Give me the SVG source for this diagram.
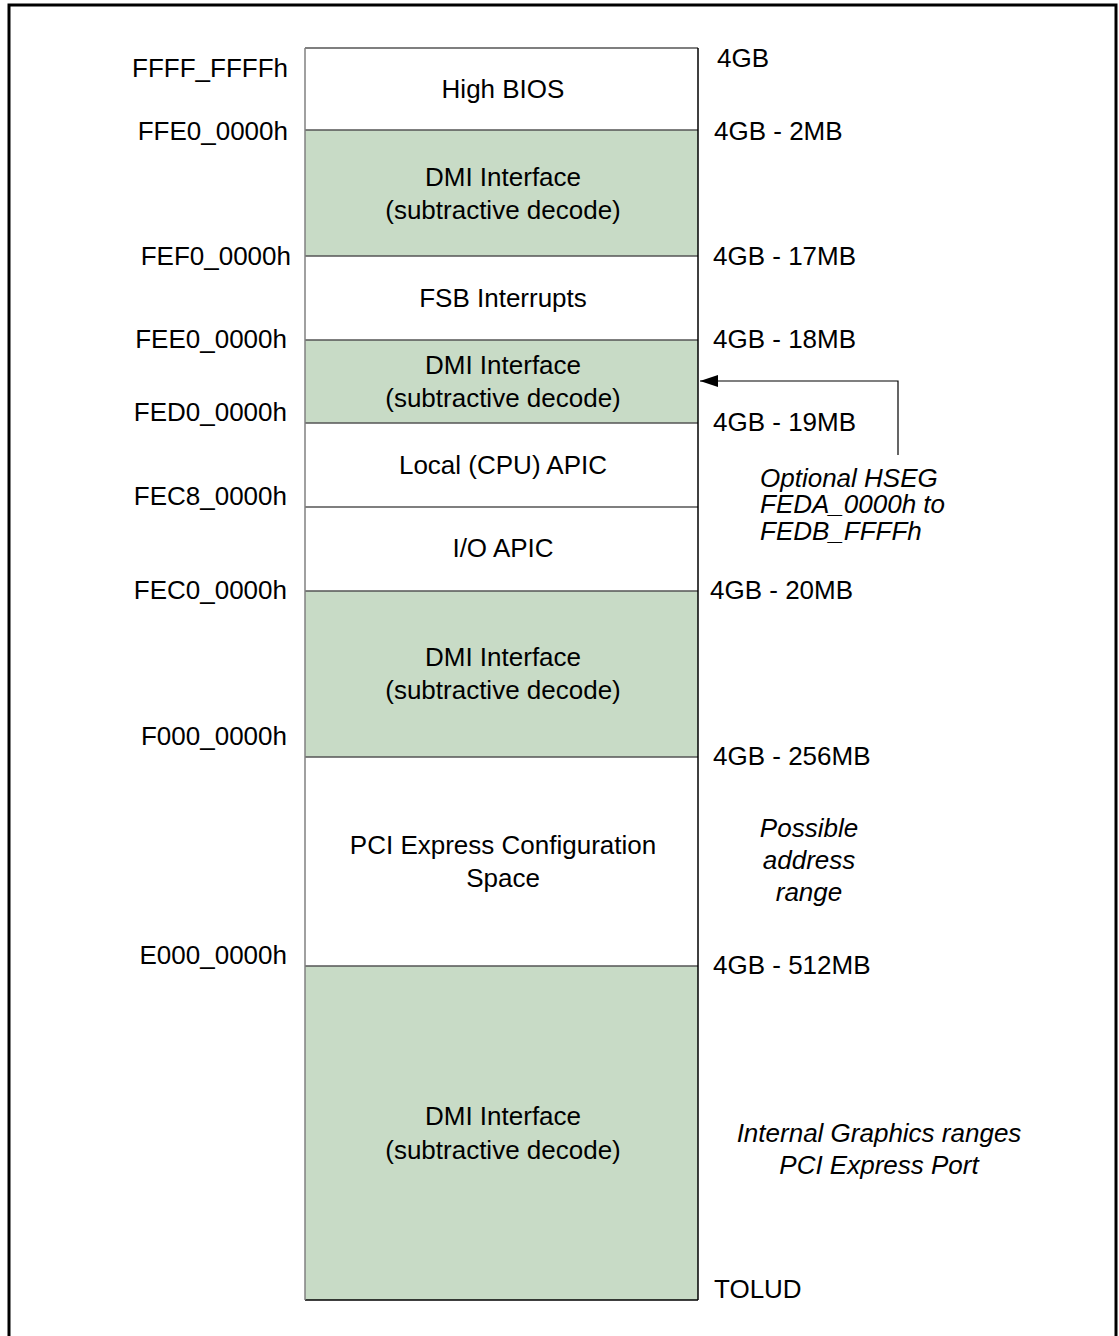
<svg xmlns="http://www.w3.org/2000/svg" width="1119" height="1336" viewBox="0 0 1119 1336">
<style>
text{font-family:"Liberation Sans",Arial,sans-serif;font-size:26px;fill:#000}
.c{text-anchor:middle}
.l{text-anchor:end}
.i{font-style:italic}
.w{fill:#fff;stroke:none}
.g{fill:#c8dbc6;stroke:none}
.sep{stroke:#555;stroke-width:1.5}
</style>
<defs>
<marker id="ah" viewBox="0 0 18 12" refX="18" refY="6" markerWidth="18" markerHeight="12" markerUnits="userSpaceOnUse" orient="auto">
<path d="M0,0 L18,6 L0,12 Z" fill="#000"/>
</marker>
</defs>
<rect x="0" y="0" width="1119" height="1336" fill="#fff"/>
<rect x="9" y="5" width="1107" height="1340" fill="none" stroke="#000" stroke-width="3"/>

<g id="seg-highbios"><rect class="w" x="305" y="48" width="393" height="82"/><text class="c" x="503" y="98">High BIOS</text></g>
<g id="seg-dmi1"><rect class="g" x="305" y="130" width="393" height="126"/><text class="c" x="503" y="186">DMI Interface</text><text class="c" x="503" y="219">(subtractive decode)</text></g>
<g id="seg-fsb"><rect class="w" x="305" y="256" width="393" height="84"/><text class="c" x="503" y="307">FSB Interrupts</text></g>
<g id="seg-dmi2"><rect class="g" x="305" y="340" width="393" height="83"/><text class="c" x="503" y="374">DMI Interface</text><text class="c" x="503" y="407">(subtractive decode)</text></g>
<g id="seg-lapic"><rect class="w" x="305" y="423" width="393" height="84"/><text class="c" x="503" y="474">Local (CPU) APIC</text></g>
<g id="seg-ioapic"><rect class="w" x="305" y="507" width="393" height="84"/><text class="c" x="503" y="557">I/O APIC</text></g>
<g id="seg-dmi3"><rect class="g" x="305" y="591" width="393" height="166"/><text class="c" x="503" y="666">DMI Interface</text><text class="c" x="503" y="699">(subtractive decode)</text></g>
<g id="seg-pcie"><rect class="w" x="305" y="757" width="393" height="209"/><text class="c" x="503" y="854">PCI Express Configuration</text><text class="c" x="503" y="887">Space</text></g>
<g id="seg-dmi4"><rect class="g" x="305" y="966" width="393" height="334"/><text class="c" x="503" y="1125">DMI Interface</text><text class="c" x="503" y="1159">(subtractive decode)</text></g>

<g id="column-lines">
<line class="sep" x1="305" y1="48" x2="698" y2="48"/>
<line class="sep" x1="305" y1="130" x2="698" y2="130"/>
<line class="sep" x1="305" y1="256" x2="698" y2="256"/>
<line class="sep" x1="305" y1="340" x2="698" y2="340"/>
<line class="sep" x1="305" y1="423" x2="698" y2="423"/>
<line class="sep" x1="305" y1="507" x2="698" y2="507"/>
<line class="sep" x1="305" y1="591" x2="698" y2="591"/>
<line class="sep" x1="305" y1="757" x2="698" y2="757"/>
<line class="sep" x1="305" y1="966" x2="698" y2="966"/>
<line x1="305" y1="1300" x2="698" y2="1300" stroke="#000" stroke-width="1.5"/>
<line x1="305" y1="48" x2="305" y2="1300" stroke="#808080" stroke-width="1.5"/>
<line x1="698" y1="48" x2="698" y2="1300" stroke="#000" stroke-width="1.5"/>
</g>

<g id="left-labels">
<text class="l" x="288" y="77">FFFF_FFFFh</text>
<text class="l" x="288" y="140">FFE0_0000h</text>
<text class="l" x="291" y="265">FEF0_0000h</text>
<text class="l" x="287" y="348">FEE0_0000h</text>
<text class="l" x="287" y="421">FED0_0000h</text>
<text class="l" x="287" y="505">FEC8_0000h</text>
<text class="l" x="287" y="599">FEC0_0000h</text>
<text class="l" x="287" y="745">F000_0000h</text>
<text class="l" x="287" y="964">E000_0000h</text>
</g>

<g id="right-labels">
<text x="717" y="67">4GB</text>
<text x="714" y="140">4GB - 2MB</text>
<text x="713" y="265">4GB - 17MB</text>
<text x="713" y="348">4GB - 18MB</text>
<text x="713" y="431">4GB - 19MB</text>
<text x="710" y="599">4GB - 20MB</text>
<text x="713" y="765">4GB - 256MB</text>
<text x="713" y="974">4GB - 512MB</text>
<text x="714" y="1298">TOLUD</text>
</g>

<g id="notes">
<text class="i" x="760" y="487">Optional HSEG</text>
<text class="i" x="760" y="513">FEDA_0000h to</text>
<text class="i" x="760" y="540">FEDB_FFFFh</text>
<text class="i c" x="809" y="837">Possible</text>
<text class="i c" x="809" y="869">address</text>
<text class="i c" x="809" y="901">range</text>
<text class="i c" x="879" y="1142">Internal Graphics ranges</text>
<text class="i c" x="879" y="1174">PCI Express Port</text>
</g>

<g id="connectors">
<polyline points="898,455 898,381 700,381" fill="none" stroke="#000" stroke-width="1.2" marker-end="url(#ah)"/>
</g>
</svg>
